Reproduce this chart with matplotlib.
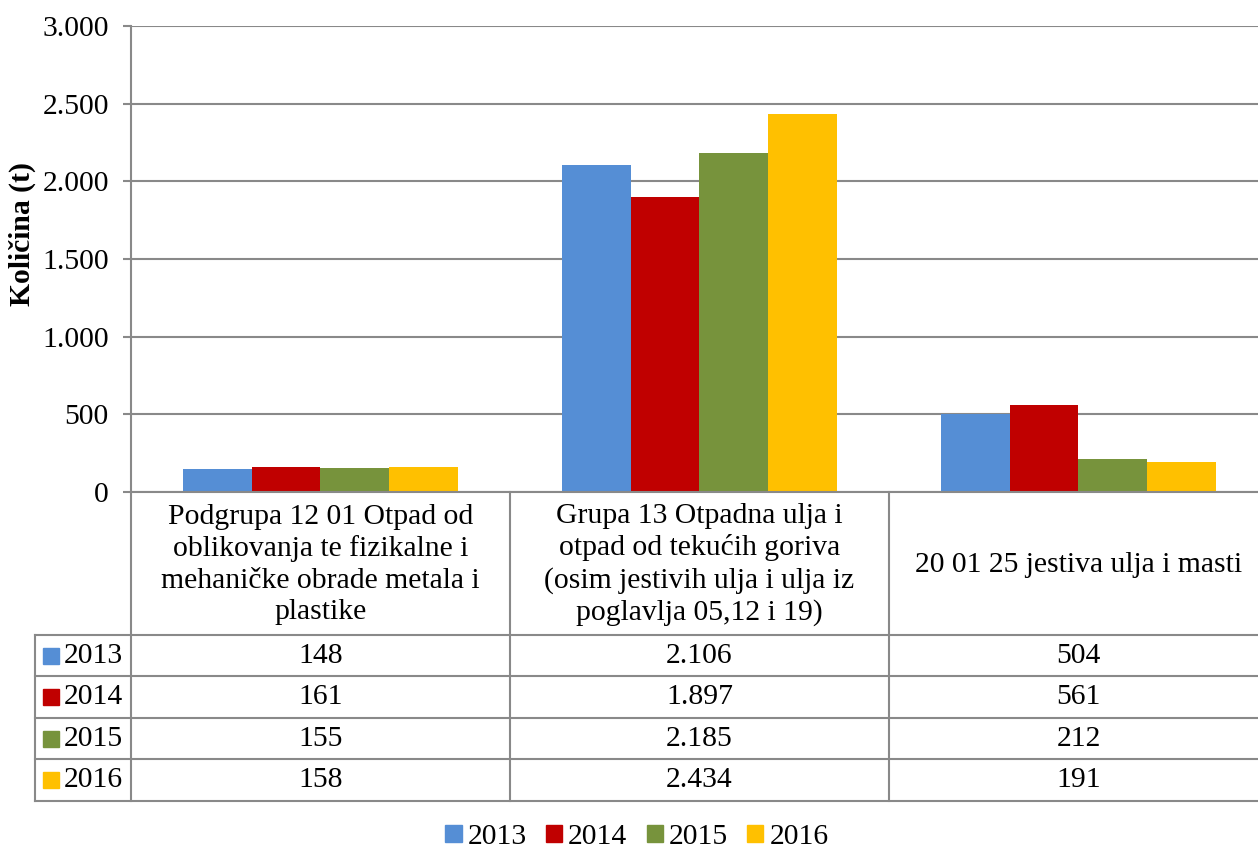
import matplotlib
matplotlib.use("Agg")
import matplotlib.pyplot as plt
from matplotlib.patches import Rectangle, Patch
import numpy as np

# ---- data ----
categories = [
    "Podgrupa 12 01 Otpad od\noblikovanja te fizikalne i\nmehaničke obrade metala i\nplastike",
    "Grupa 13 Otpadna ulja i\notpad od tekućih goriva\n(osim jestivih ulja i ulja iz\npoglavlja 05,12 i 19)",
    "20 01 25 jestiva ulja i masti",
]
years = ["2013", "2014", "2015", "2016"]
v2013 = [148, 2106, 504]
v2014 = [161, 1897, 561]
v2015 = [155, 2185, 212]
v2016 = [158, 2434, 191]
series = [v2013, v2014, v2015, v2016]
colors = ["#558ED5", "#C00000", "#77933C", "#FFC000"]
yticks = [0, 500, 1000, 1500, 2000, 2500, 3000]
ylabel = "Količina (t)"

def fmt(v):
    return f"{v:,}".replace(",", ".")

plt.rcParams['font.family'] = ['Liberation Serif', 'DejaVu Serif']
FS = 21.3
GRID = "#898989"

W, H = 1258, 849
fig = plt.figure(figsize=(W / 100, H / 100), dpi=100)

# layout in pixels
ax_left, ax_top, ax_bottom = 131, 26, 492
cat_w = 379
ax_right = ax_left + cat_w * len(categories)
ax = fig.add_axes([ax_left / W, 1 - ax_bottom / H, (ax_right - ax_left) / W, (ax_bottom - ax_top) / H])

n = len(series)
bw = 0.182
x = np.arange(len(categories))
for i, (vals, c) in enumerate(zip(series, colors)):
    ax.bar(x + (i - (n - 1) / 2) * bw, vals, width=bw, color=c, zorder=3)

ax.set_xlim(-0.5, len(categories) - 0.5)
ax.set_ylim(0, 3000)
ax.set_yticks(yticks)
ax.set_yticklabels([fmt(t) for t in yticks], fontsize=FS)
ax.set_xticks([])
ax.yaxis.grid(True, color=GRID, lw=1.5, zorder=0)
for s in ["top", "right", "bottom"]:
    ax.spines[s].set_visible(False)
ax.spines["left"].set_color(GRID)
ax.spines["left"].set_linewidth(1.5)
ax.tick_params(axis="y", length=6, width=1.5, color=GRID, pad=10)

fig.text(22 / W, 1 - 234 / H, ylabel, rotation=90, fontsize=FS, fontweight="bold",
         ha="center", va="center")

# ---- data table (pixel overlay) ----
tx = fig.add_axes([0, 0, 1, 1])
tx.set_xlim(0, W)
tx.set_ylim(H, 0)
tx.axis("off")

hdr_bottom = 635
row_h = 41.4
row_left = 35
col_edges = [ax_left + k * cat_w for k in range(len(categories) + 1)]
rows_bottom = hdr_bottom + row_h * len(years)
lkw = dict(color=GRID, lw=1.5)

# vertical lines
tx.plot([ax_left, ax_left], [ax_bottom, rows_bottom], **lkw)
for xe in col_edges[1:]:
    tx.plot([xe, xe], [ax_bottom, rows_bottom], **lkw)
tx.plot([row_left, row_left], [hdr_bottom, rows_bottom], **lkw)
# horizontal lines
tx.plot([ax_left, W], [ax_bottom, ax_bottom], **lkw)
for r in range(len(years) + 1):
    yy = hdr_bottom + r * row_h
    tx.plot([row_left, W], [yy, yy], **lkw)

# header texts
for k, cat in enumerate(categories):
    cx = (col_edges[k] + col_edges[k + 1]) / 2
    tx.text(cx, (ax_bottom + hdr_bottom) / 2 + 1, cat, ha="center", va="center",
            fontsize=FS, linespacing=1.27)

# rows
for r, (yr, vals, c) in enumerate(zip(years, series, colors)):
    cy = hdr_bottom + (r + 0.5) * row_h
    tx.add_patch(Rectangle((43, cy - 8), 16, 16, color=c))
    tx.text(64, cy, yr, ha="left", va="center", fontsize=FS)
    for k, v in enumerate(vals):
        cx = (col_edges[k] + col_edges[k + 1]) / 2
        tx.text(cx, cy, fmt(v), ha="center", va="center", fontsize=FS)

# legend
handles = [Patch(color=c, label=y) for y, c in zip(years, colors)]
fig.legend(handles=handles, loc="center", bbox_to_anchor=(637 / W, 1 - 837 / H),
           ncol=4, frameon=False, fontsize=FS, handlelength=0.55, handleheight=0.55,
           handletextpad=0.2, columnspacing=0.65, borderaxespad=0)

fig.savefig("out.png", dpi=100)
